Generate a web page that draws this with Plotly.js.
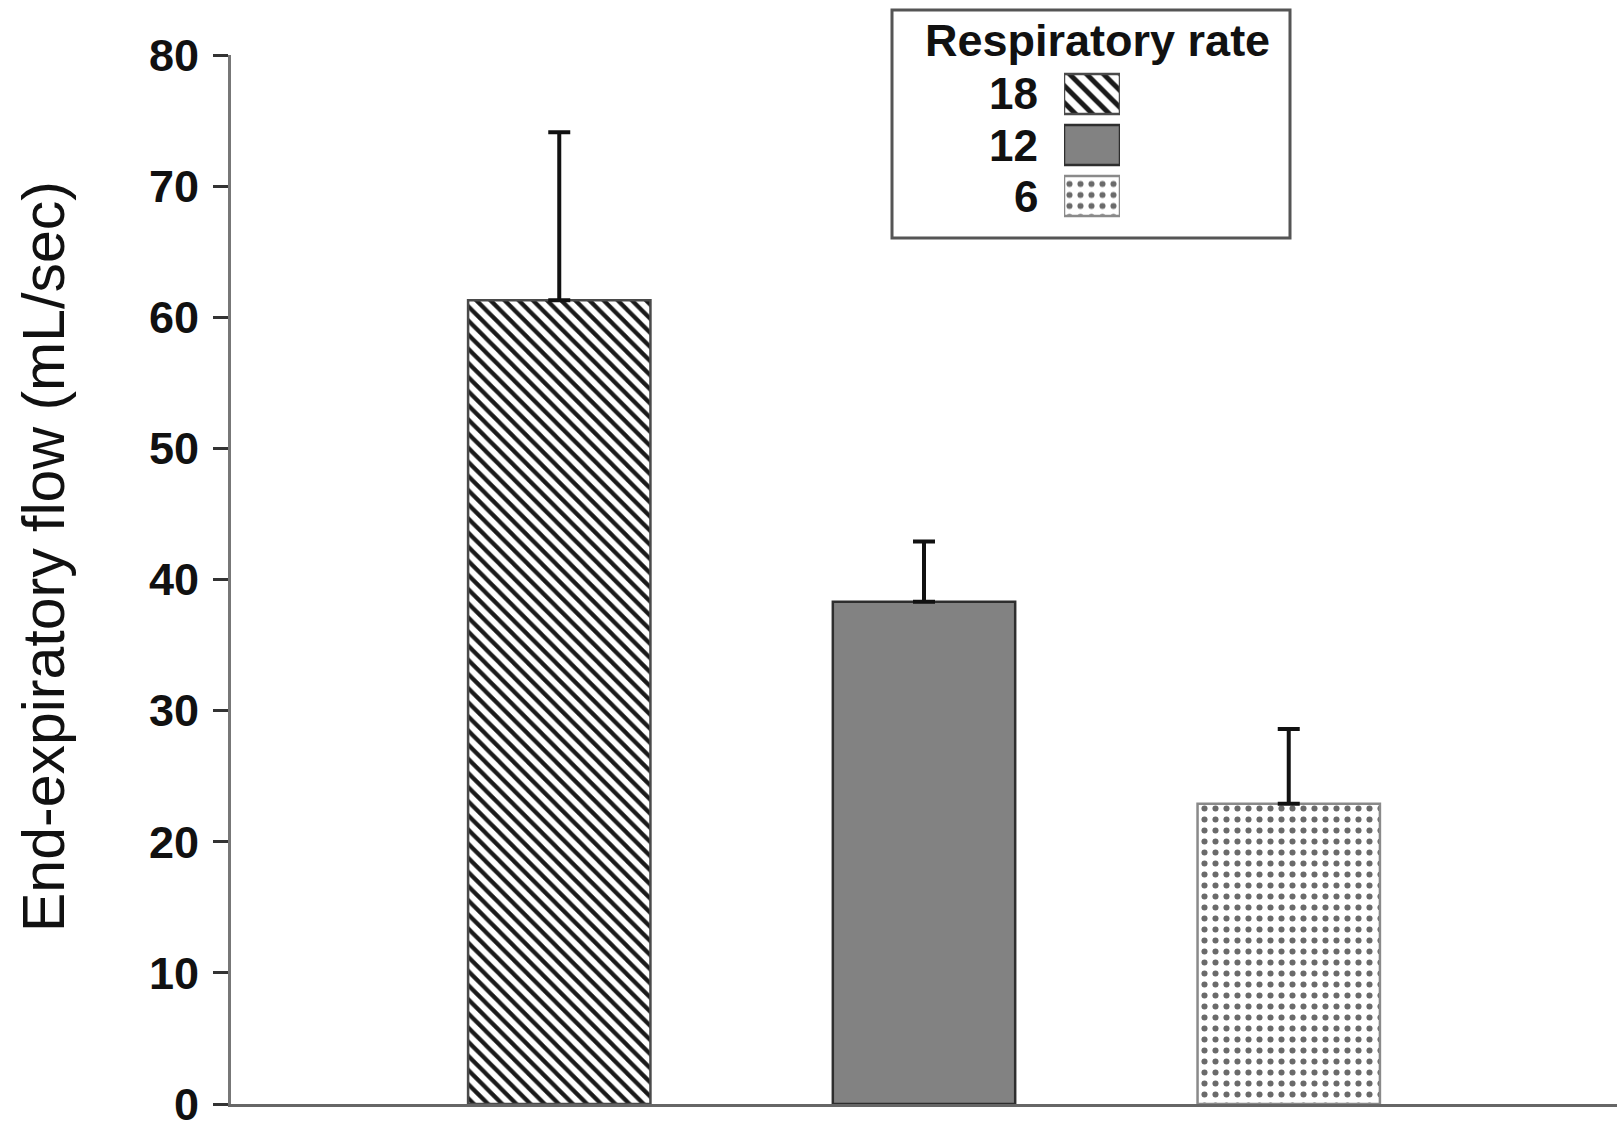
<!DOCTYPE html>
<html>
<head>
<meta charset="utf-8">
<script src="https://cdn.plot.ly/plotly-3.0.1.min.js"></script>
<style>html,body{margin:0;padding:0;background:#fff;}#chart{width:1617px;height:1130px;}</style>
</head>
<body>
<div id="chart"></div>
<script>
// Data
const rates = ['18', '12', '6'];              // respiratory rate categories
const flow = [61.3, 38.3, 22.9];              // end-expiratory flow, mL/sec
const flowErr = [12.8, 4.6, 5.7];             // upper error (SD)
const yTicks = [0, 10, 20, 30, 40, 50, 60, 70, 80];
const legendTitle = 'Respiratory rate';
const yTitle = 'End-expiratory flow (mL/sec)';

// Styles per rate
const styles = [
  {shape: '\\', fill: '#ffffff', fg: '#1a1a1a', size: 10, solid: 0.42, line: '#4a4a4a', lsize: 12},
  {shape: '',   fill: '#828282', fg: '#828282', size: 8,  solid: 0.3,  line: '#2e2e2e', lsize: 8},
  {shape: '.',  fill: '#ffffff', fg: '#6a6a6a', size: 11, solid: 0.24, line: '#8a8a8a', lsize: 11}
];

const L = 231, R = 1617, T = 55, B = 1104;
const px2x = v => (v - L) / (R - L);
const px2y = v => (B - v) / (B - T);

function markerFor(s, legend) {
  const m = {color: s.fill, line: {color: s.line, width: 2.5}};
  if (s.shape) {
    m.pattern = {shape: s.shape, fgcolor: s.fg, bgcolor: s.fill,
                 size: legend ? s.lsize : s.size, solidity: s.solid, fillmode: 'replace'};
  }
  return m;
}

const traces = [];
rates.forEach((r, i) => {
  traces.push({
    type: 'bar', x: [r], y: [flow[i]], width: 0.5, name: r,
    xaxis: 'x', yaxis: 'y',
    marker: markerFor(styles[i], false),
    error_y: {type: 'data', symmetric: false, array: [flowErr[i]], arrayminus: [0],
              color: '#111', thickness: 4, width: 11},
    showlegend: false, hoverinfo: 'skip'
  });
});
rates.forEach((r, i) => {
  traces.push({
    type: 'bar', orientation: 'h', y: [r], x: [1], width: 0.78, name: r,
    xaxis: 'x2', yaxis: 'y2',
    marker: markerFor(styles[i], true),
    showlegend: false, hoverinfo: 'skip'
  });
});

const labelFont = {family: 'Liberation Sans, Arial, sans-serif', size: 44, color: '#111'};
const legendLabels = rates.map((r, i) => ({
  xref: 'paper', yref: 'y2', x: px2x(1040), y: i, xanchor: 'right', yanchor: 'middle',
  text: '<b>' + r + '</b>', showarrow: false, font: labelFont
}));

const layout = {
  width: 1617, height: 1130,
  margin: {l: L, r: 1617 - R, t: T, b: 1130 - B, pad: 0},
  paper_bgcolor: '#ffffff', plot_bgcolor: 'rgba(0,0,0,0)',
  showlegend: false, barmode: 'overlay',
  xaxis: {
    type: 'category', categoryorder: 'array', categoryarray: rates,
    range: [-0.9, 2.9], showticklabels: false, ticks: '',
    showgrid: false, zeroline: false, showline: true, linecolor: '#666', linewidth: 3,
    fixedrange: true
  },
  yaxis: {
    range: [0, 80], tickvals: yTicks, ticktext: yTicks.map(String),
    ticks: 'outside', ticklen: 15, tickwidth: 3, tickcolor: '#333',
    showgrid: false, zeroline: false, showline: true, linecolor: '#777', linewidth: 3,
    tickfont: {family: 'Liberation Sans, Arial, sans-serif', size: 45, color: '#111', weight: 'bold'},
    ticklabelstandoff: 5, ticklabeloverflow: 'allow',
    fixedrange: true
  },
  xaxis2: {
    domain: [px2x(1064), px2x(1120)], anchor: 'y2', range: [0, 1],
    showticklabels: false, ticks: '', showgrid: false, zeroline: false, showline: false, fixedrange: true
  },
  yaxis2: {
    domain: [px2y(221.5), px2y(68.5)], anchor: 'x2', type: 'category',
    categoryorder: 'array', categoryarray: rates, range: [2.5, -0.5],
    showticklabels: false, ticks: '', showgrid: false, zeroline: false, showline: false,
    fixedrange: true
  },
  shapes: [{
    type: 'rect', xref: 'paper', yref: 'paper', layer: 'below',
    x0: px2x(892), x1: px2x(1290), y0: px2y(238), y1: px2y(10),
    line: {color: '#555', width: 3}, fillcolor: '#ffffff'
  }],
  annotations: [
    {xref: 'paper', yref: 'paper', x: px2x(1097), y: px2y(40), xanchor: 'center', yanchor: 'middle',
     text: '<b>' + legendTitle + '</b>', showarrow: false,
     font: {family: 'Liberation Sans, Arial, sans-serif', size: 45, color: '#111'}},
    {xref: 'paper', yref: 'paper', x: px2x(44), y: px2y(557), xanchor: 'center', yanchor: 'middle',
     text: yTitle, textangle: -90, showarrow: false,
     font: {family: 'Liberation Sans, Arial, sans-serif', size: 59, color: '#111'}}
  ].concat(legendLabels)
};

Plotly.newPlot('chart', traces, layout, {displayModeBar: false});
</script>
</body>
</html>
